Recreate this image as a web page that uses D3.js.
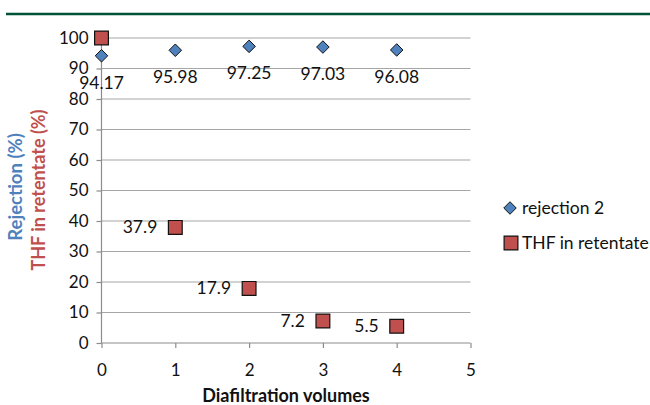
<!DOCTYPE html>
<html>
<head>
<meta charset="utf-8">
<script src="https://cdn.jsdelivr.net/npm/d3@7"></script>
<style>
  html, body { margin: 0; padding: 0; background: #fff; }
  svg { display: block; font-family: Lato, "Open Sans", sans-serif; }
</style>
</head>
<body>
<svg id="chart" width="650" height="405"></svg>
<script>
// Diafiltration volumes (x) and the two measured series
const volumes = [0, 1, 2, 3, 4];
const rejection = [94.17, 95.98, 97.25, 97.03, 96.08];
const thf = [100, 37.9, 17.9, 7.2, 5.5];
const thfLabels = [null, "37.9", "17.9", "7.2", "5.5"];
const xTicks = [0, 1, 2, 3, 4, 5];
const yTicks = [0, 10, 20, 30, 40, 50, 60, 70, 80, 90, 100];

const blue = "#4f81bd", red = "#c0504d";
const svg = d3.select("#chart");

// header rule
svg.append("line").attr("x1", 6).attr("x2", 650).attr("y1", 14).attr("y2", 14)
  .attr("stroke", "#005238").attr("stroke-width", 2.5);

const x = d3.scaleLinear().domain([0, 5]).range([101.5, 470.5]);
const y = d3.scaleLinear().domain([0, 100]).range([343, 38]);

// horizontal gridlines
svg.append("g").selectAll("line").data(yTicks.filter(d => d > 0)).join("line")
  .attr("x1", x(0)).attr("x2", x(5))
  .attr("y1", d => y(d)).attr("y2", d => y(d))
  .attr("stroke", "#a6a6a6").attr("stroke-width", 1.2);

// y axis
const yAxis = svg.append("g").attr("transform", `translate(${x(0)},0)`)
  .call(d3.axisLeft(y).tickValues(yTicks).tickSize(5).tickPadding(8).tickFormat(d3.format("d")));
yAxis.select(".domain").attr("stroke", "#8c8c8c").attr("stroke-width", 1.2).attr("d", `M0,${y(100)}V${y(0)}`);
yAxis.selectAll(".tick line").attr("stroke", "#8c8c8c").attr("stroke-width", 1.2);
yAxis.selectAll("text").attr("font-size", 17).attr("fill", "#111").attr("font-family", "Lato");

// x axis
const xAxis = svg.append("g").attr("transform", `translate(0,${y(0)})`)
  .call(d3.axisBottom(x).tickValues(xTicks).tickSize(5).tickPadding(16).tickFormat(d3.format("d")));
xAxis.select(".domain").attr("stroke", "#8c8c8c").attr("stroke-width", 1.2).attr("d", `M${x(0)},0H${x(5)}`);
xAxis.selectAll(".tick line").attr("stroke", "#8c8c8c").attr("stroke-width", 1.2);
xAxis.selectAll("text").attr("font-size", 17).attr("fill", "#111").attr("font-family", "Lato");

// axis titles
svg.append("text").attr("transform", "translate(286,402)").attr("text-anchor", "middle")
  .attr("font-weight", "bold").attr("font-size", 18).attr("fill", "#111").text("Diafiltration volumes");
svg.append("text").attr("transform", "translate(22,187) rotate(-90)").attr("text-anchor", "middle")
  .attr("font-weight", "bold").attr("font-size", 18.5).attr("fill", blue).text("Rejection (%)");
svg.append("text").attr("transform", "translate(45,190) rotate(-90)").attr("text-anchor", "middle")
  .attr("font-weight", "bold").attr("font-size", 18).attr("fill", red).text("THF in retentate (%)");

const diamond = d3.symbol().type(d3.symbolDiamond2).size(100);
const square = d3.symbol().type(d3.symbolSquare).size(190);

// THF in retentate markers
svg.append("g").selectAll("path").data(volumes).join("path")
  .attr("d", square).attr("transform", (d, i) => `translate(${x(d)},${y(thf[i])})`)
  .attr("fill", red).attr("stroke", "#111").attr("stroke-width", 1.2);
svg.append("g").selectAll("text").data(volumes.filter((d, i) => thfLabels[i])).join("text")
  .attr("x", d => x(d) - 18).attr("y", d => y(thf[d]) + 6)
  .attr("text-anchor", "end").attr("font-size", 17.5).attr("fill", "#111")
  .text(d => thfLabels[d]);

// rejection markers
svg.append("g").selectAll("path").data(volumes).join("path")
  .attr("d", diamond).attr("transform", (d, i) => `translate(${x(d)},${y(rejection[i])})`)
  .attr("fill", blue).attr("stroke", "#111").attr("stroke-width", 1);
svg.append("g").selectAll("text").data(volumes).join("text")
  .attr("x", d => x(d)).attr("y", (d, i) => y(rejection[i]) + 33)
  .attr("text-anchor", "middle").attr("font-size", 17.5).attr("fill", "#111")
  .text((d, i) => rejection[i].toFixed(2));

// legend
const leg = svg.append("g");
leg.append("path").attr("d", diamond).attr("transform", "translate(510,208)")
  .attr("fill", blue).attr("stroke", "#111").attr("stroke-width", 1);
leg.append("text").attr("x", 522).attr("y", 214).attr("font-size", 17.5).attr("fill", "#111").text("rejection 2");
leg.append("path").attr("d", square).attr("transform", "translate(511,243)")
  .attr("fill", red).attr("stroke", "#111").attr("stroke-width", 1.2);
leg.append("text").attr("x", 522).attr("y", 249).attr("font-size", 17.5).attr("fill", "#111").text("THF in retentate");
</script>
</body>
</html>
